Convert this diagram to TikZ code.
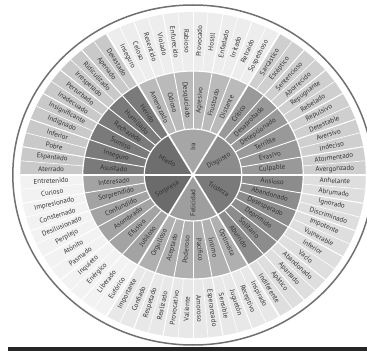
\documentclass[tikz,border=0pt]{standalone}
\usepackage{fontspec}
\setmainfont{PT Sans}
\usepackage{xcolor}
\definecolor{txt}{HTML}{333333}
\definecolor{rim}{HTML}{707070}
\usepackage{tikz}
\newcommand{\rcore}{46}
\newcommand{\rmid}{104}
\newcommand{\rout}{163}
\newcommand{\rrim}{170}

\begin{document}
\begin{tikzpicture}[x=1pt, y=1pt,
  lbl/.style={text=txt, font=\fontsize{7}{8}\selectfont, inner sep=0pt},
  sep/.style={draw=white, line width=0.6pt},
  secsep/.style={draw=white, line width=0.9pt},
  coresep/.style={draw=white, line width=1.7pt},
]
  \useasboundingbox (-193,-176) rectangle (174,175);
  \clip (-193,-176) rectangle (174,175);
  \fill[black!85] (-185,-172) rectangle (174,-176);

  \begin{scope}[xscale=1.06]
  \draw[line width=1.5pt, draw=rim, fill=white] (0,0) circle[radius=\rrim];

  \foreach \k/\cc/\cm/\co in {0/45/40/19, 1/35/27/7, 2/57/52/21, 3/58/36/5, 4/38/31/9, 5/52/45/13}{
    \pgfmathsetmacro\a{60*\k}
    \pgfmathsetmacro\b{60*\k+60}
    \fill[black!\cc] (0,0) -- (\a:\rcore) arc[start angle=\a, end angle=\b, radius=\rcore] -- cycle;
    \fill[black!\cm] (\a:\rcore) arc[start angle=\a, end angle=\b, radius=\rcore]
      -- (\b:\rmid) arc[start angle=\b, end angle=\a, radius=\rmid] -- cycle;
    \fill[black!\co] (\a:\rmid) arc[start angle=\a, end angle=\b, radius=\rmid]
      -- (\b:\rout) arc[start angle=\b, end angle=\a, radius=\rout] -- cycle;
  }

  \foreach \a in {0,5,...,355} \draw[sep] (\a:\rmid) -- (\a:\rout);
  \foreach \a in {0,10,...,350} \draw[secsep] (\a:\rcore) -- (\a:\rout);
  \foreach \a in {0,60,...,300} \draw[coresep] (0,0) -- (\a:\rout);
  \draw[white, line width=1.2pt] (0,0) circle[radius=\rcore];
  \draw[white, line width=1.2pt] (0,0) circle[radius=\rmid];

  \foreach \w [count=\i from 0] in {Avergonzado, Atormentado, Indeciso, Aversivo, Detestable, Repulsivo,
      Rebelado, Repugnante, Aborrecido, Sentencioso, Escéptico, Sarcástico,
      Sospechoso, Retraído, Irritado, Enfadado, Hostil, Provocado,
      Rabioso, Enfurecido, Violado, Resentido, Celoso, Inseguro,
      Devastado, Apenado, Ridiculizado, Irrespetado, Perturbado, Inadecuado,
      Insignificante, Indignado, Inferior, Pobre, Espantado, Aterrado,
      Entretenido, Curioso, Impresionado, Consternado, Desilusionado, Perplejo,
      Atónito, Pasmado, Inquieto, Enérgico, Liberado, Eufórico,
      Importante, Confiado, Respetado, Realizado, Provocativo, Valiente,
      Amoroso, Esperanzado, Sensible, Juguetón, Receptivo, Inspirado,
      Indiferente, Apático, Apartado, Abandonado, Vacío, Inferior,
      Vulnerable, Impotente, Discriminado, Ignorado, Abrumado, Anhelante}{
    \pgfmathsetmacro\ang{5*\i+2.5}
    \pgfmathsetmacro\rot{\ang>90 ? (\ang>270 ? \ang : \ang-180) : \ang}
    \node[lbl, rotate=\rot] (t\i) at (\ang:134) {\w};
  }

  \foreach \w [count=\i from 0] in {Culpable, Evasivo, Terrible, Decepcionado, Desaprobado, Crítico,
      Distante, Frustrado, Agresivo, Desquiciado, Odioso, Amenazado,
      Herido, Humillado, Rechazado, Sumiso, Inseguro, Asustado,
      Interesado, Sorprendido, Confundido, Asombrado, Efusivo, Jubiloso,
      Orgulloso, Aceptado, Poderoso, Pacífico, Íntimo, Optimista,
      Aburrido, Solitario, Deprimido, Desesperado, Abandonado, Ansioso}{
    \pgfmathsetmacro\ang{10*\i+5}
    \pgfmathsetmacro\rot{\ang>90 ? (\ang>270 ? \ang : \ang-180) : \ang}
    \node[lbl, rotate=\rot] (s\i) at (\ang:75) {\w};
  }

  \foreach \w [count=\i from 0] in {Disgusto, Ira, Miedo, Sorpresa, Felicidad, Tristeza}{
    \pgfmathsetmacro\ang{60*\i+30}
    \pgfmathsetmacro\rot{\ang>90 ? (\ang>270 ? \ang : \ang-180) : \ang}
    \node[lbl, rotate=\rot] (c\i) at (\ang:28) {\w};
  }
  \end{scope}
\end{tikzpicture}
\end{document}
